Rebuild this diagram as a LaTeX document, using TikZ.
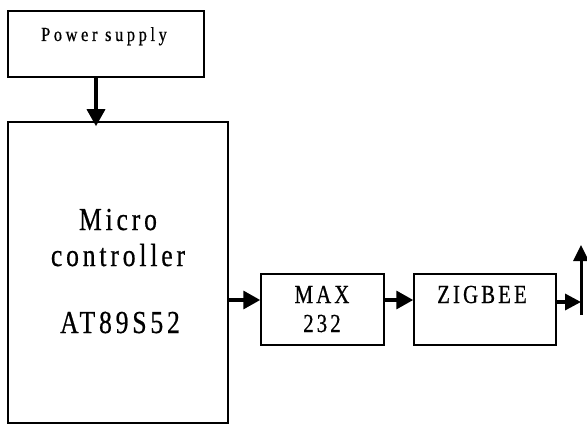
\documentclass[tikz,border=0pt]{standalone}
\usepackage{fontspec}
\setmainfont{Liberation Serif}
\newfontfamily\psfont[FakeStretch=0.82,LetterSpace=18,FakeBold=0.6]{Liberation Serif}
\newfontfamily\dfont[FakeStretch=0.8,LetterSpace=12,FakeBold=0.6]{Liberation Serif}
\usetikzlibrary{arrows.meta}
\tikzset{
  blk/.style={draw=black, line width=1.5pt, rectangle, inner sep=0pt},
  arr/.style={line width=3.4pt, -{Triangle[length=17pt,width=18pt]}},
  lbl/.style={anchor=base, inner sep=0pt, text=black}
}
\begin{document}
\begin{tikzpicture}[x=1pt,y=-1pt]
\useasboundingbox (0,0) rectangle (587,425);
% boxes
\node[blk, minimum width=196pt, minimum height=66pt] (ps) at (106,44) {};
\node[blk, minimum width=220pt, minimum height=301pt] (mc) at (118,272.5) {};
\node[blk, minimum width=123pt, minimum height=71pt] (mx) at (322.5,309.5) {};
\node[blk, minimum width=142pt, minimum height=71pt] (zb) at (485,309.5) {};
% texts
\node[lbl, font=\psfont\fontsize{20}{20}\selectfont] (pst) at (104,41) {Power supply};
\node[lbl, font=\dfont\fontsize{32}{32}\selectfont] (mc1) at (118,230) {Micro};
\node[lbl, font=\dfont\fontsize{32}{32}\selectfont] (mc2) at (118,266) {controller};
\node[lbl, font=\dfont\fontsize{32}{32}\selectfont] (mc3) at (120,333) {AT89S52};
\node[lbl, font=\dfont\fontsize{26}{26}\selectfont] (mx1) at (322,303) {MAX};
\node[lbl, font=\dfont\fontsize{26}{26}\selectfont] (mx2) at (322,332) {232};
\node[lbl, font=\dfont\fontsize{26}{26}\selectfont] (zb1) at (482,303) {ZIGBEE};
% antenna
\coordinate (antb) at (581,315);
\coordinate (antt) at (581,245);
\coordinate (row) at (0,300);
\coordinate (row2) at (0,302);
% connectors
\draw[arr] (ps.south -| 96,0) -- ([yshift=-5pt]mc.north -| 96,0);
\draw[arr] (mc.east |- row) -- (mx.west |- row);
\draw[arr] (mx.east |- row) -- (zb.west |- row);
\draw[arr, -{Triangle[length=16pt,width=16pt]}] (zb.east |- row2) -- (antb |- row2);
\draw[arr, -{Triangle[length=16pt,width=15pt]}, line width=3pt] (antb) -- (antt);
\end{tikzpicture}
\end{document}
